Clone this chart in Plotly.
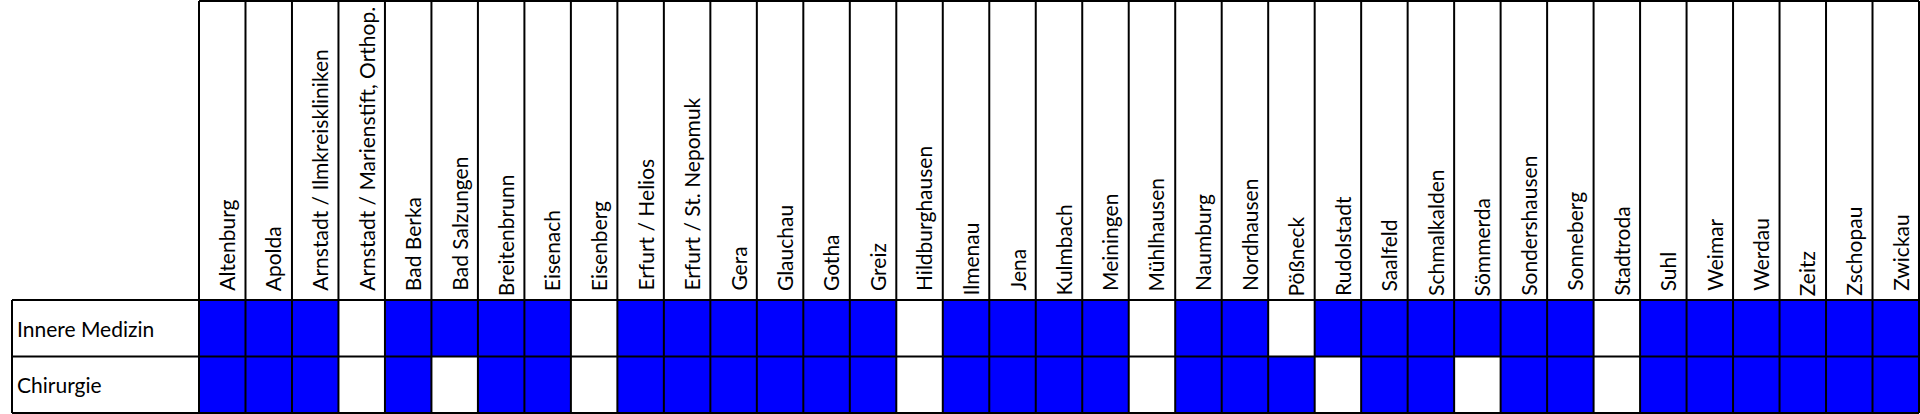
import plotly.graph_objects as go

hospitals = [
    "Altenburg", "Apolda", "Arnstadt / Ilmkreiskliniken", "Arnstadt / Marienstift, Orthop.",
    "Bad Berka", "Bad Salzungen", "Breitenbrunn", "Eisenach", "Eisenberg", "Erfurt / Helios",
    "Erfurt / St. Nepomuk", "Gera", "Glauchau", "Gotha", "Greiz", "Hildburghausen", "Ilmenau",
    "Jena", "Kulmbach", "Meiningen", "Mühlhausen", "Naumburg", "Nordhausen", "Pößneck",
    "Rudolstadt", "Saalfeld", "Schmalkalden", "Sömmerda", "Sondershausen", "Sonneberg",
    "Stadtroda", "Suhl", "Weimar", "Werdau", "Zeitz", "Zschopau", "Zwickau",
]
departments = ["Innere Medizin", "Chirurgie"]
innere_medizin = [1, 1, 1, 0, 1, 1, 1, 1, 0, 1, 1, 1, 1, 1, 1, 0, 1, 1, 1, 1, 0, 1, 1, 0,
                  1, 1, 1, 1, 1, 1, 0, 1, 1, 1, 1, 1, 1]
chirurgie = [1, 1, 1, 0, 1, 0, 1, 1, 0, 1, 1, 1, 1, 1, 1, 0, 1, 1, 1, 1, 0, 1, 1, 1,
             0, 1, 1, 0, 1, 1, 0, 1, 1, 1, 1, 1, 1]

# ---- layout geometry (pixels) ----
W, H = 1920, 414
n = len(hospitals)
col_left_px, col_right_px = 199, 1919
label_left_px = 12
row_top_px, row_bottom_px = 300, 413
px_x = (col_right_px - col_left_px) / n
px_y = (row_bottom_px - row_top_px) / 2
x0 = -0.5 - col_left_px / px_x
x1 = x0 + W / px_x
y_top = 1.5 + row_top_px / px_y
y_bot = y_top - H / px_y
label_left = x0 + label_left_px / px_x
header_top = y_top - 1 / px_y

FONT = "Lato, Carlito, Calibri, sans-serif"
BLUE = "#0000FF"
flush_labels = {"Breitenbrunn", "Ilmenau", "Kulmbach", "Pößneck", "Rudolstadt", "Schmalkalden",
                "Sömmerda", "Sondershausen", "Stadtroda", "Zeitz", "Zschopau"}

z = [chirurgie, innere_medizin]  # y=0 Chirurgie (bottom), y=1 Innere Medizin (top)
fig = go.Figure(go.Heatmap(
    z=z, x=list(range(n)), y=[0, 1],
    colorscale=[[0, "white"], [1, BLUE]], zmin=0, zmax=1, showscale=False,
    hoverinfo="skip",
))

shapes = []
line = dict(color="black", width=2)
for k in range(n + 1):
    shapes.append(dict(type="line", xref="x", yref="y", x0=k - 0.5, x1=k - 0.5,
                       y0=-0.5, y1=header_top, line=line))
for yy in (-0.5, 0.5, 1.5):
    shapes.append(dict(type="line", xref="x", yref="y", x0=label_left, x1=n - 0.5,
                       y0=yy, y1=yy, line=line))
shapes.append(dict(type="line", xref="x", yref="y", x0=-0.5, x1=n - 0.5,
                   y0=header_top, y1=header_top, line=line))
shapes.append(dict(type="line", xref="x", yref="y", x0=label_left, x1=label_left,
                   y0=-0.5, y1=1.5, line=line))

annotations = []
for i, name in enumerate(hospitals):
    annotations.append(dict(
        x=i, y=1.5, xref="x", yref="y", text=name, showarrow=False, textangle=-90,
        xanchor="center", yanchor="bottom", borderpad=0,
        yshift=3 if name in flush_labels else 8, xshift=4,
        font=dict(family=FONT, size=21, color="black"),
    ))
for j, dep in enumerate(departments):
    annotations.append(dict(
        x=label_left, y=1 - j, xref="x", yref="y", text=dep, showarrow=False,
        xanchor="left", yanchor="middle", xshift=4, borderpad=0,
        font=dict(family=FONT, size=21, color="black"),
    ))

fig.update_layout(
    width=W, height=H, margin=dict(l=0, r=0, t=0, b=0),
    paper_bgcolor="white", plot_bgcolor="white",
    xaxis=dict(range=[x0, x1], visible=False, fixedrange=True),
    yaxis=dict(range=[y_bot, y_top], visible=False, fixedrange=True),
    shapes=shapes, annotations=annotations, showlegend=False,
)
fig.write_html(
    "out.html",
    config={"displayModeBar": False, "staticPlot": True},
    post_script="document.body.style.margin='0';document.body.style.padding='0';",
)
